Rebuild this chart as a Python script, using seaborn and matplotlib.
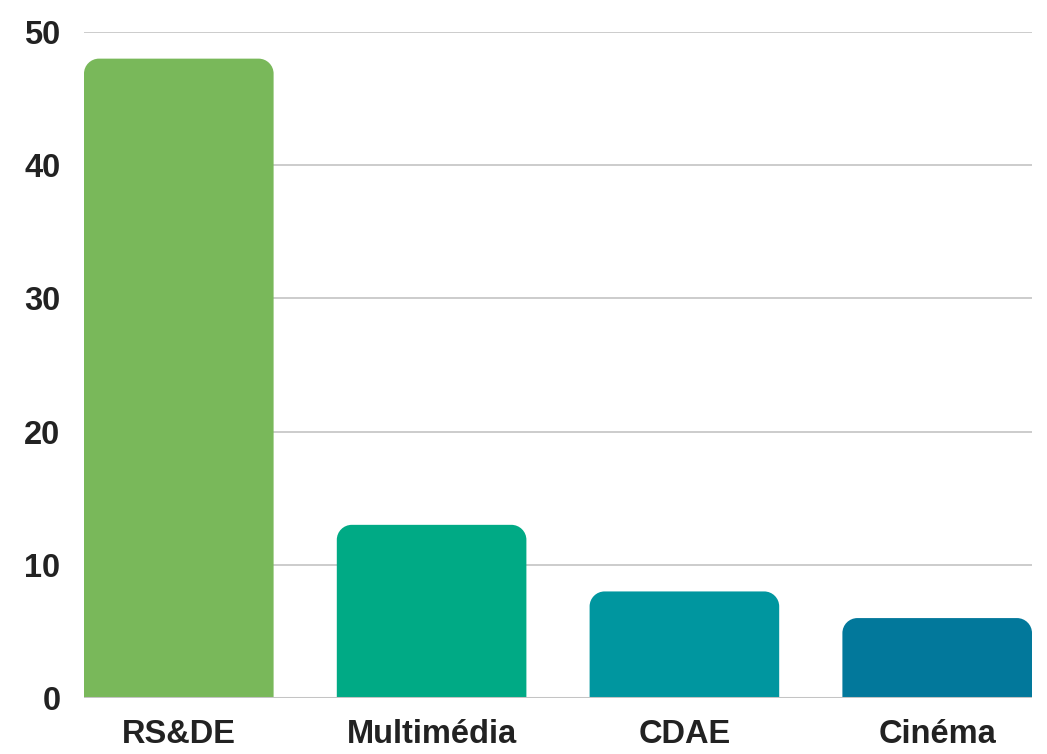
import matplotlib
matplotlib.use("Agg")
import matplotlib.pyplot as plt
import seaborn as sns
import pandas as pd
from matplotlib.patches import PathPatch
from matplotlib.path import Path

# data
categories = ["RS&DE", "Multimédia", "CDAE", "Cinéma"]
values = [48, 13, 8, 6]
colors = ["#79b85a", "#00aa85", "#00969f", "#02789b"]

df = pd.DataFrame({"filiere": categories, "effectif": values})

sns.set_theme(style="white")
plt.rcParams["font.family"] = ["Liberation Sans", "DejaVu Sans"]

fig = plt.figure(figsize=(10.47, 7.54), dpi=100)
ax = fig.add_axes([84 / 1047, 56 / 754, 948 / 1047, 666 / 754])

sns.barplot(data=df, x="filiere", y="effectif", hue="filiere",
            palette=colors, width=0.75, saturation=1, legend=False, ax=ax)

ax.set_xlim(-0.375, 3.375)
ax.set_ylim(0, 50)
ax.set_yticks([0, 10, 20, 30, 40, 50])

# gridlines
ax.yaxis.grid(True, color="#c8c8c8", linewidth=1.3)
ax.set_axisbelow(True)
for s in ax.spines.values():
    s.set_visible(False)
ax.axhline(0, color="#c4c4c4", linewidth=2.2, zorder=3)

# rounded top corners on the bars (one path per bar)
fig.canvas.draw()
px_x = ax.transData.transform((1, 0))[0] - ax.transData.transform((0, 0))[0]
px_y = ax.transData.transform((0, 1))[1] - ax.transData.transform((0, 0))[1]
rx = 15 / px_x
ry = 15 / px_y
k = 0.5523
for p in list(ax.patches):
    x, w, h = p.get_x(), p.get_width(), p.get_height()
    c = p.get_facecolor()
    p.remove()
    x1 = x + w
    verts = [
        (x, 0), (x, h - ry),
        (x, h - ry + k * ry), (x + rx - k * rx, h), (x + rx, h),
        (x1 - rx, h),
        (x1 - rx + k * rx, h), (x1, h - ry + k * ry), (x1, h - ry),
        (x1, 0), (x, 0),
    ]
    codes = [Path.MOVETO, Path.LINETO,
             Path.CURVE4, Path.CURVE4, Path.CURVE4,
             Path.LINETO,
             Path.CURVE4, Path.CURVE4, Path.CURVE4,
             Path.LINETO, Path.CLOSEPOLY]
    ax.add_patch(PathPatch(Path(verts, codes), facecolor=c,
                           edgecolor="none", zorder=2))

ax.set_xlabel("")
ax.set_ylabel("")
ax.tick_params(axis="y", length=0, pad=17, labelsize=23.5, labelcolor="#222222")
ax.tick_params(axis="x", length=0, pad=15, labelsize=23.5, labelcolor="#222222")
for lbl in ax.get_xticklabels() + ax.get_yticklabels():
    lbl.set_fontweight("bold")

fig.savefig("out.png", dpi=100)
